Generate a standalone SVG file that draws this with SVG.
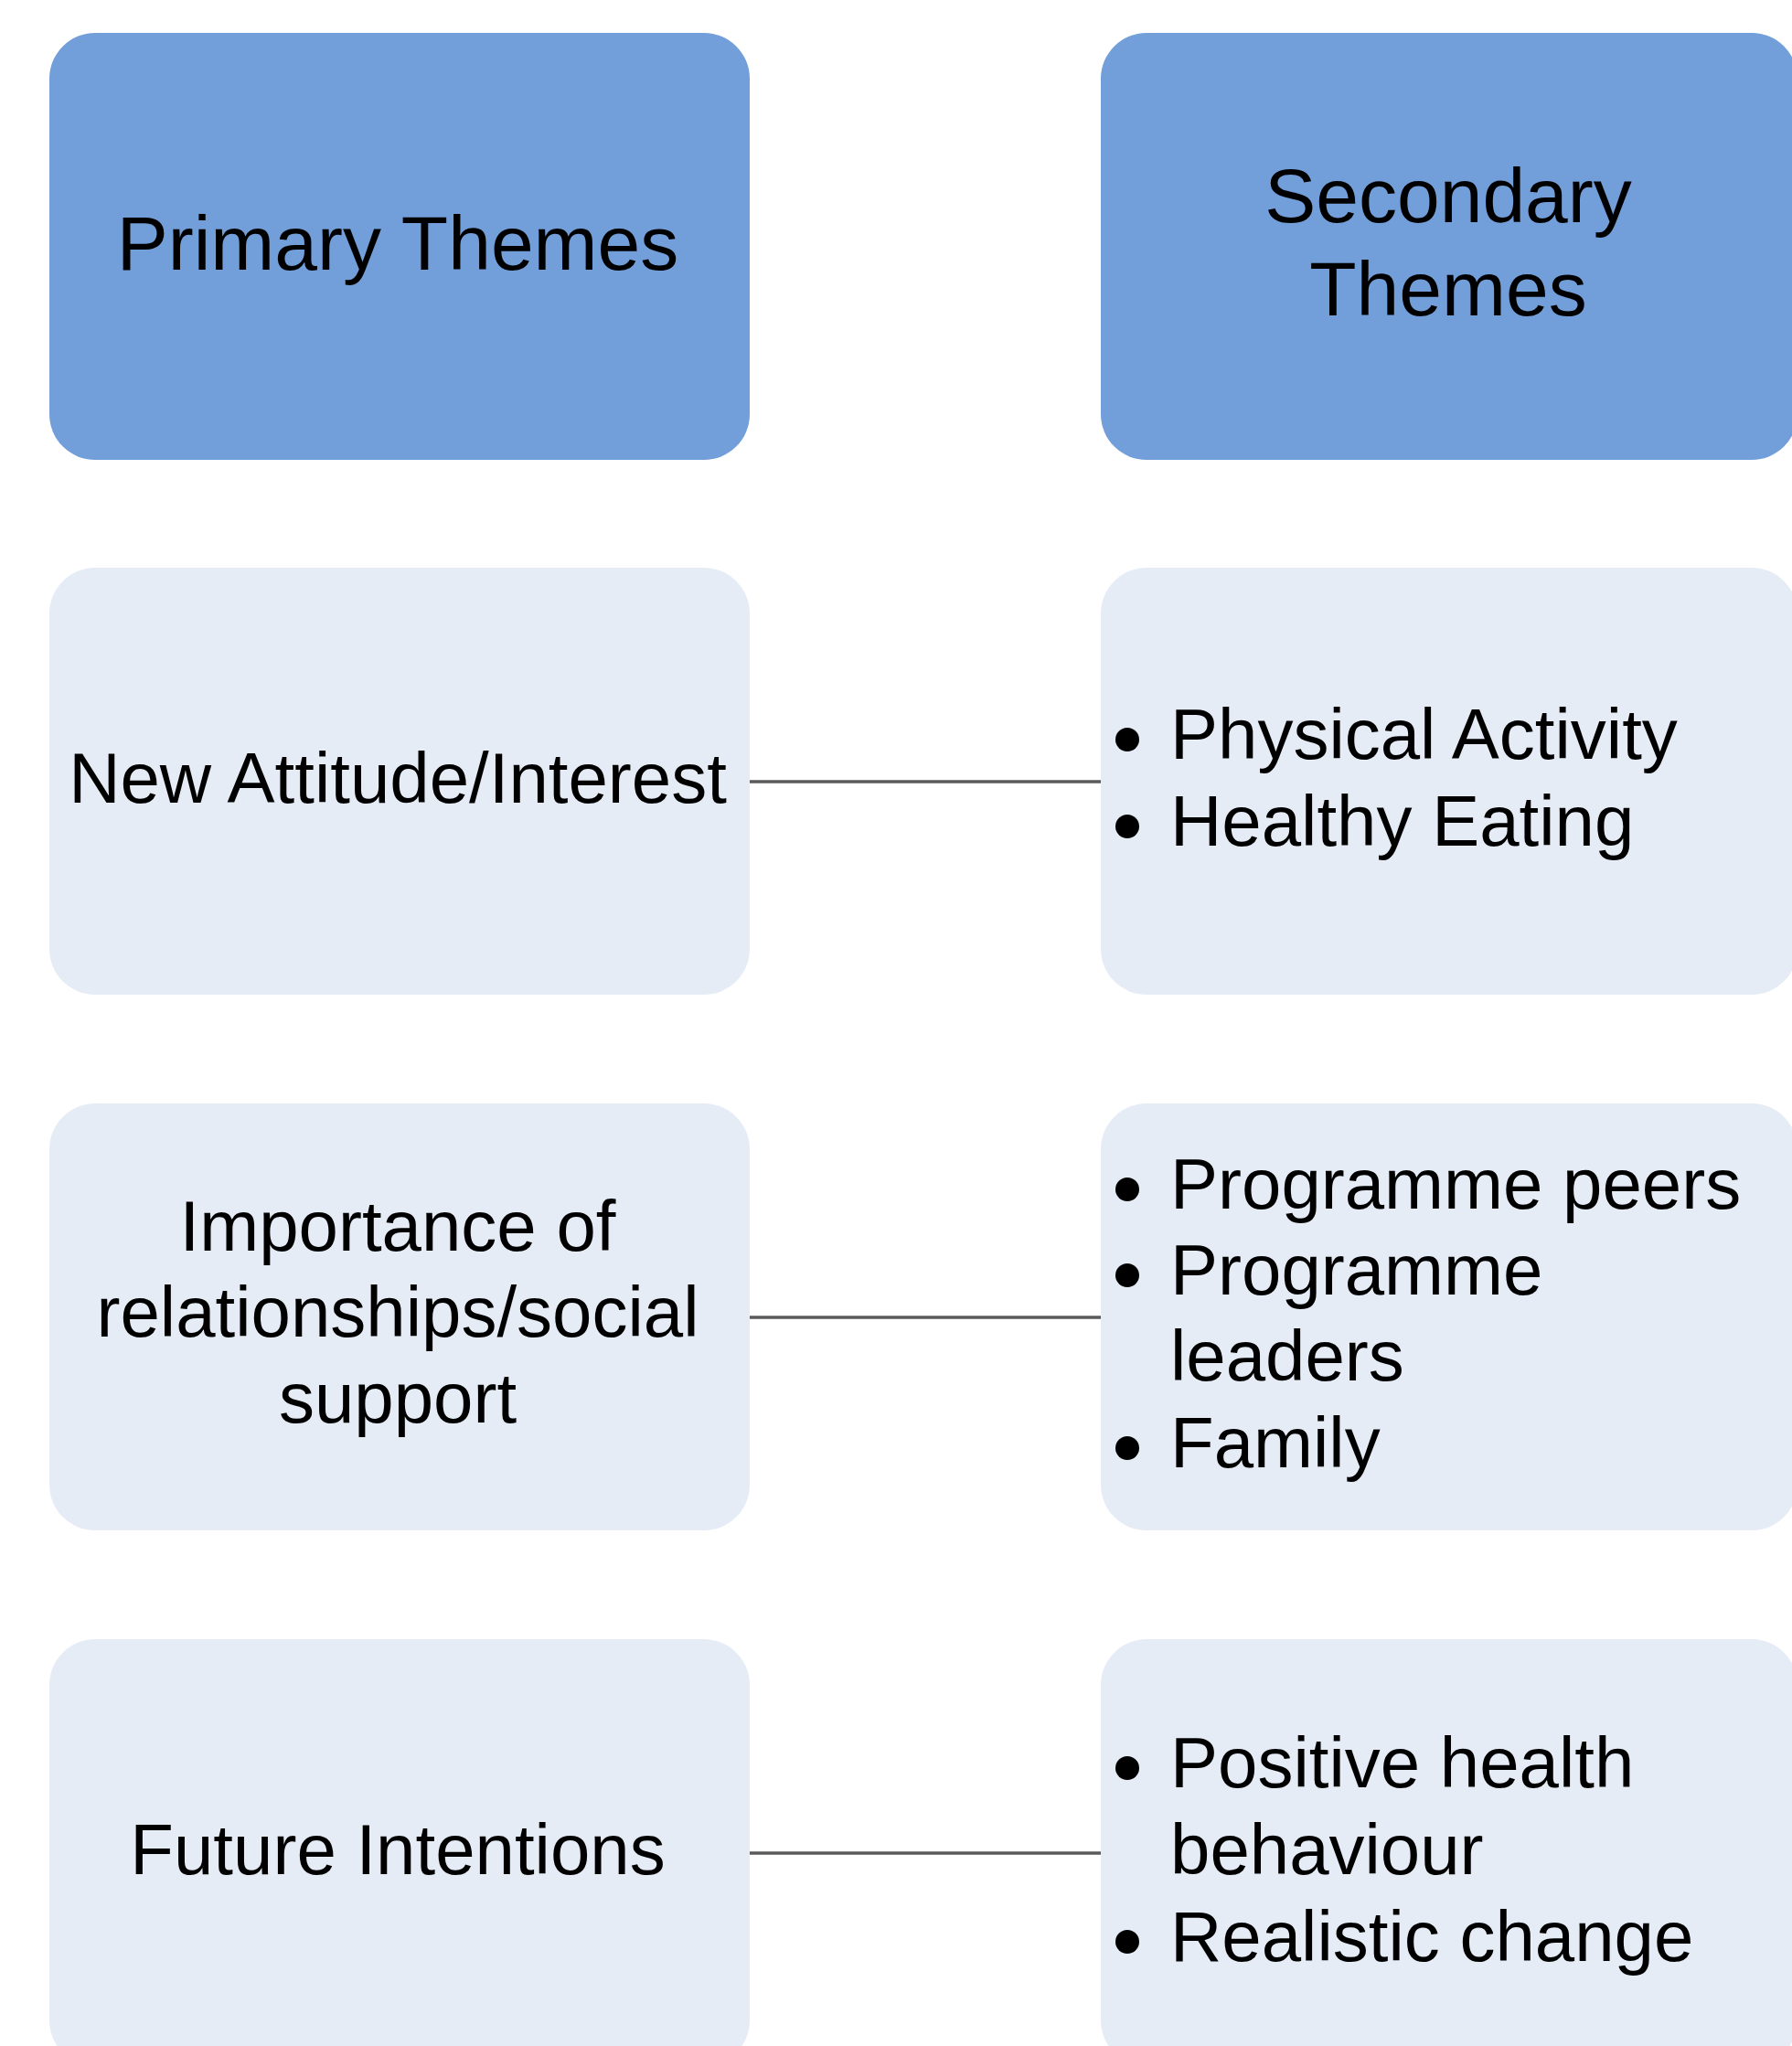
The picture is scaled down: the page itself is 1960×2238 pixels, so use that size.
<svg xmlns="http://www.w3.org/2000/svg" width="1960" height="2238" viewBox="0 0 1960 2238">
<style>
.hdr{fill:#729ED9}
.box{fill:#E6ECF6}
.ht{font-family:"Liberation Sans",Arial,sans-serif;font-size:84px;fill:#000;text-anchor:middle}
.lt{font-family:"Liberation Sans",Arial,sans-serif;font-size:78px;fill:#000;text-anchor:middle}
.rt{font-family:"Liberation Sans",Arial,sans-serif;font-size:78px;fill:#000}
.dot{fill:#000}
.conn{stroke:#5a5a5a;stroke-width:3.5;fill:none}
</style>
<rect width="1960" height="2238" fill="#ffffff"/>
<g id="connectors">
<line class="conn" x1="820" y1="855" x2="1204" y2="855"/>
<line class="conn" x1="820" y1="1441" x2="1204" y2="1441"/>
<line class="conn" x1="820" y1="2027" x2="1204" y2="2027"/>
</g>
<g id="primary-header">
<rect class="hdr" x="54" y="36" width="766" height="467" rx="50" ry="50"/>
<text class="ht" x="435" y="295">Primary Themes</text>
</g>
<g id="secondary-header">
<rect class="hdr" x="1204" y="36" width="762" height="467" rx="50" ry="50"/>
<text class="ht" x="1584" y="243">Secondary</text>
<text class="ht" x="1584" y="345">Themes</text>
</g>
<g id="primary-1">
<rect class="box" x="54" y="621" width="766" height="467" rx="50" ry="50"/>
<text class="lt" x="435" y="878">New Attitude/Interest</text>
</g>
<g id="secondary-1">
<rect class="box" x="1204" y="621" width="762" height="467" rx="50" ry="50"/>
<circle class="dot" cx="1233" cy="809" r="13"/>
<text class="rt" x="1280" y="830">Physical Activity</text>
<circle class="dot" cx="1233" cy="904" r="13"/>
<text class="rt" x="1280" y="925">Healthy Eating</text>
</g>
<g id="primary-2">
<rect class="box" x="54" y="1207" width="766" height="467" rx="50" ry="50"/>
<text class="lt" x="435" y="1368">Importance of</text>
<text class="lt" x="435" y="1462">relationships/social</text>
<text class="lt" x="435" y="1556">support</text>
</g>
<g id="secondary-2">
<rect class="box" x="1204" y="1207" width="762" height="467" rx="50" ry="50"/>
<circle class="dot" cx="1233" cy="1301" r="13"/>
<text class="rt" x="1280" y="1322">Programme peers</text>
<circle class="dot" cx="1233" cy="1395" r="13"/>
<text class="rt" x="1280" y="1416">Programme</text>
<text class="rt" x="1280" y="1510">leaders</text>
<circle class="dot" cx="1233" cy="1584" r="13"/>
<text class="rt" x="1280" y="1605">Family</text>
</g>
<g id="primary-3">
<rect class="box" x="54" y="1793" width="766" height="467" rx="50" ry="50"/>
<text class="lt" x="435" y="2050">Future Intentions</text>
</g>
<g id="secondary-3">
<rect class="box" x="1204" y="1793" width="762" height="467" rx="50" ry="50"/>
<circle class="dot" cx="1233" cy="1934" r="13"/>
<text class="rt" x="1280" y="1955">Positive health</text>
<text class="rt" x="1280" y="2050">behaviour</text>
<circle class="dot" cx="1233" cy="2124" r="13"/>
<text class="rt" x="1280" y="2145">Realistic change</text>
</g>
</svg>
